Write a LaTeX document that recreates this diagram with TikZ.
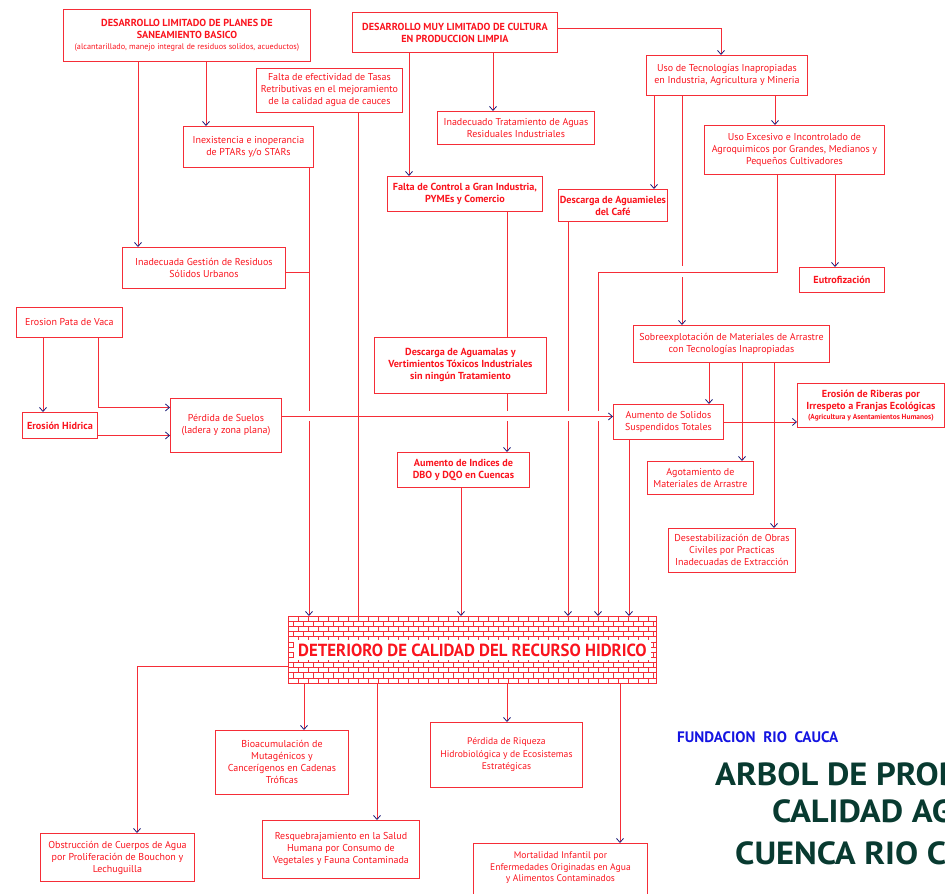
\documentclass[tikz,border=0pt]{standalone}
\usepackage{fontspec}
\setmainfont{PT Sans}
\usetikzlibrary{arrows.meta}
\definecolor{linered}{RGB}{245,45,55}
\definecolor{textred}{RGB}{250,20,30}
\definecolor{tipblue}{RGB}{30,30,120}
\definecolor{titlegreen}{RGB}{8,58,48}
\definecolor{fundblue}{RGB}{20,20,225}
\tikzset{
  box/.style={draw=linered, line width=0.9pt, text=textred, align=center,
    inner sep=0pt, anchor=north west, font=\fontsize{10}{12}\selectfont},
  bbox/.style={box, font=\fontsize{10.2}{12}\selectfont\bfseries},
  link/.style={draw=linered, line width=0.8pt},
  arr/.style={link, -{Straight Barb[length=4pt,width=7pt,line width=0.8pt,color=tipblue]}},
  knock/.style={fill=white, draw=none},
  brick/.style={draw=linered, line width=0.5pt},
}
\begin{document}
\begin{tikzpicture}[x=1pt,y=-1pt]
\useasboundingbox (0,0) rectangle (945,894);
\clip (0,0) rectangle (945,894);

% ---- causes, upper part ----
\node[bbox, minimum width=247, minimum height=52] (A) at (63,9)
  {DESARROLLO LIMITADO DE PLANES DE\\SANEAMIENTO BASICO\\[-1.5pt]
   {\mdseries\fontsize{8.2}{9}\selectfont (alcantarillado, manejo integral de residuos solidos, acueductos)}};
\node[box, minimum width=146, minimum height=44] (FE) at (256,68)
  {Falta de efectividad de Tasas\\Retributivas en el mejoramiento\\de la calidad agua de cauces};
\node[box, minimum width=130, minimum height=41] (IN) at (183,126)
  {Inexistencia e inoperancia\\de PTARs y/o STARs};
\node[box, minimum width=163, minimum height=41] (IG) at (122,247)
  {Inadecuada Gestión de Residuos\\Sólidos Urbanos};
\node[bbox, minimum width=205, minimum height=40] (B) at (352,12)
  {DESARROLLO MUY LIMITADO DE CULTURA\\EN PRODUCCION LIMPIA};
\node[box, minimum width=157, minimum height=33] (IT) at (437,111)
  {Inadecuado Tratamiento de Aguas\\Residuales Industriales};
\node[bbox, minimum width=155, minimum height=35] (FC) at (387,176)
  {Falta de Control a Gran Industria,\\PYMEs y Comercio};
\node[bbox, minimum width=109, minimum height=32] (DC) at (558,189)
  {Descarga de Aguamieles\\del Café};
\node[box, minimum width=161, minimum height=40] (UT) at (646,55)
  {Uso de Tecnologías Inapropiadas\\en Industria, Agricultura y Mineria};
\node[box, minimum width=180, minimum height=49] (UE) at (704,125)
  {Uso Excesivo e Incontrolado de\\Agroquimicos por Grandes, Medianos y\\Pequeños Cultivadores};
\node[bbox, minimum width=85, minimum height=25] (EU) at (799,267) {Eutrofización};

% ---- middle part ----
\node[box, minimum width=106, minimum height=30] (EPV) at (16,307) {Erosion Pata de Vaca};
\node[bbox, minimum width=75, minimum height=26] (EH) at (22,412) {Erosión Hidrica};
\node[box, minimum width=111, minimum height=54] (PS) at (170,398)
  {Pérdida de Suelos\\(ladera y zona plana)};
\node[bbox, minimum width=172, minimum height=56] (DA) at (374,337)
  {Descarga de Aguamalas y\\Vertimientos Tóxicos Industriales\\sin ningún Tratamiento};
\node[bbox, minimum width=132, minimum height=35] (AI) at (397,452)
  {Aumento de Indices de\\DBO y DQO en Cuencas};
\node[box, minimum width=196, minimum height=37] (SO) at (633,325)
  {Sobreexplotación de Materiales de Arrastre\\con Tecnologías Inapropiadas};
\node[box, minimum width=110, minimum height=35] (AS) at (613,404)
  {Aumento de Solidos\\Suspendidos Totales};
\node[bbox, minimum width=147, minimum height=44] (ER) at (797,383)
  {Erosión de Riberas por\\Irrespeto a Franjas Ecológicas\\[-2pt]
   {\fontsize{7.4}{8}\selectfont (Agricultura y Asentamientos Humanos)}};
\node[box, minimum width=106, minimum height=33] (AG) at (647,461)
  {Agotamiento de\\Materiales de Arrastre};
\node[box, minimum width=127, minimum height=44] (DE) at (668,528)
  {Desestabilización de Obras\\Civiles por Practicas\\Inadecuadas de Extracción};

% ---- central problem, brick wall ----
\node[box, minimum width=368, minimum height=67] (M) at (288,616) {};
\begin{scope}
  \clip (M.north west) rectangle (M.south east);
  \foreach \i in {0,...,12}{
    \pgfmathsetmacro{\yt}{616+\i*67/13}
    \pgfmathsetmacro{\off}{mod(\i,2)*5}
    \draw[brick] (288,\yt) -- (656,\yt);
    \foreach \k in {0,...,37}{
      \draw[brick] ({288+\off+\k*10},\yt) -- ++(0,{67/13});
    }
  }
\end{scope}
\node[fill=white, inner sep=0pt, minimum width=357, minimum height=20,
  text=textred, font=\fontsize{17.5}{17.5}\selectfont\bfseries] (MT) at (M.center)
  {\scalebox{0.96}[1]{DETERIORO DE CALIDAD DEL RECURSO HIDRICO}};

% ---- effects ----
\node[box, minimum width=154, minimum height=48] (OB) at (40,833)
  {Obstrucción de Cuerpos de Agua\\por Proliferación de Bouchon y\\Lechuguilla};
\node[box, minimum width=133, minimum height=64] (BI) at (215,730)
  {Bioacumulación de\\Mutagénicos y\\Cancerígenos en Cadenas\\Tróficas};
\node[box, minimum width=157, minimum height=58] (RE) at (262,820)
  {Resquebrajamiento en la Salud\\Humana por Consumo de\\Vegetales y Fauna Contaminada};
\node[box, minimum width=152, minimum height=65, font=\fontsize{9.6}{12.5}\selectfont] (PR) at (430,722)
  {Pérdida de Riqueza\\Hidrobiológica y de Ecosistemas\\Estratégicas};
\node[box, minimum width=174, minimum height=70, font=\fontsize{9.6}{11.5}\selectfont] (MO) at (473,843)
  {Mortalidad Infantil por\\Enfermedades Originadas en Agua\\y Alimentos Contaminados\\[12pt]};

% ---- vertical connectors ----
\draw[arr] (A.south -| 138,0) -- (IG.north -| 138,0);
\draw[arr] (A.south -| 206,0) -- (IN.north -| 206,0);
\draw[arr] (IN.south -| 309,0) -- (M.north -| 309,0);
\draw[link] (FE.south -| 358,0) -- (M.north -| 358,0);
\draw[arr] (B.south -| 409,0) -- (FC.north -| 409,0);
\draw[arr] (B.south -| 493,0) -- (IT.north -| 493,0);
\draw[link] (FC.south -| 507,0) -- (DA.north -| 507,0);
\draw[arr] (DA.south -| 507,0) -- (AI.north -| 507,0);
\draw[arr] (AI.south -| 461,0) -- (M.north -| 461,0);
\draw[arr] (UT.south -| 654,0) -- (DC.north -| 654,0);
\draw[arr] (DC.south -| 568,0) -- (M.north -| 568,0);
\draw[arr] (UT.south -| 682,0) -- (SO.north -| 682,0);
\draw[arr] (UT.south -| 775,0) -- (UE.north -| 775,0);
\draw[arr] (UE.south -| 835,0) -- (EU.north -| 835,0);
\draw[arr] (EPV.south -| 43,0) -- (EH.north -| 43,0);
\draw[arr] (SO.south -| 709,0) -- (AS.north -| 709,0);
\draw[arr] (SO.south -| 742,0) -- (AG.north -| 742,0);
\draw[arr] (SO.south -| 774,0) -- (DE.north -| 774,0);
\draw[arr] (AS.south -| 629,0) -- (M.north -| 629,0);
\draw[arr] (UE.south -| 777,0) |- (598,272) -- (M.north -| 598,0);

% line jumps where horizontal connectors pass
\foreach \xx in {309,507,568,598}{ \fill[knock] (\xx-2.5,411) rectangle (\xx+2.5,421); }
\fill[knock] (679.5,266) rectangle (684.5,277);
\draw[link] (UE.south -| 777,0) |- (598,272);

% ---- horizontal connectors ----
\draw[link] ([yshift=-4.5pt]IG.east) -- ++(24,0);
\draw[arr] ([yshift=4pt]B.east) -| (UT.north -| 721,0);
\draw[arr] (EPV.south -| 98,0) |- ([yshift=18pt]PS.west);
\draw[arr] ([yshift=-10pt]EH.east) -- ([yshift=-10pt]PS.west);
\draw[arr] ([yshift=9pt]PS.east) -- ([yshift=9pt]PS.east -| AS.west);
\draw[arr] (AS.east) -- (AS.east -| ER.west);

% ---- effects connectors ----
\draw[arr] ([yshift=-16.5pt]M.west) -| (OB.north -| 137,0);
\draw[arr] (M.south -| 304,0) -- (BI.north -| 304,0);
\draw[arr] (M.south -| 377,0) -- (RE.north -| 377,0);
\draw[arr] (M.south -| 507,0) -- (PR.north -| 507,0);
\draw[arr] (M.south -| 620,0) -- (MO.north -| 620,0);

% ---- titles ----
\node[anchor=base west, inner sep=0pt, text=fundblue, font=\fontsize{15.2}{15.2}\selectfont\bfseries]
  (FU) at (677,742) {FUNDACION\ \ RIO\ \ CAUCA};
\begin{scope}[every node/.style={anchor=base west, inner sep=0pt, text=titlegreen,
    font=\fontsize{32}{32}\selectfont\bfseries}]
  \node (T1) at (715,785) {\scalebox{1.08}[1]{ARBOL DE PROBLEMAS}};
  \node (T2) at (772,822) {\scalebox{1.08}[1]{CALIDAD AGUA}};
  \node (T3) at (735,864) {\scalebox{1.08}[1]{CUENCA RIO CAUCA}};
\end{scope}
\end{tikzpicture}
\end{document}
